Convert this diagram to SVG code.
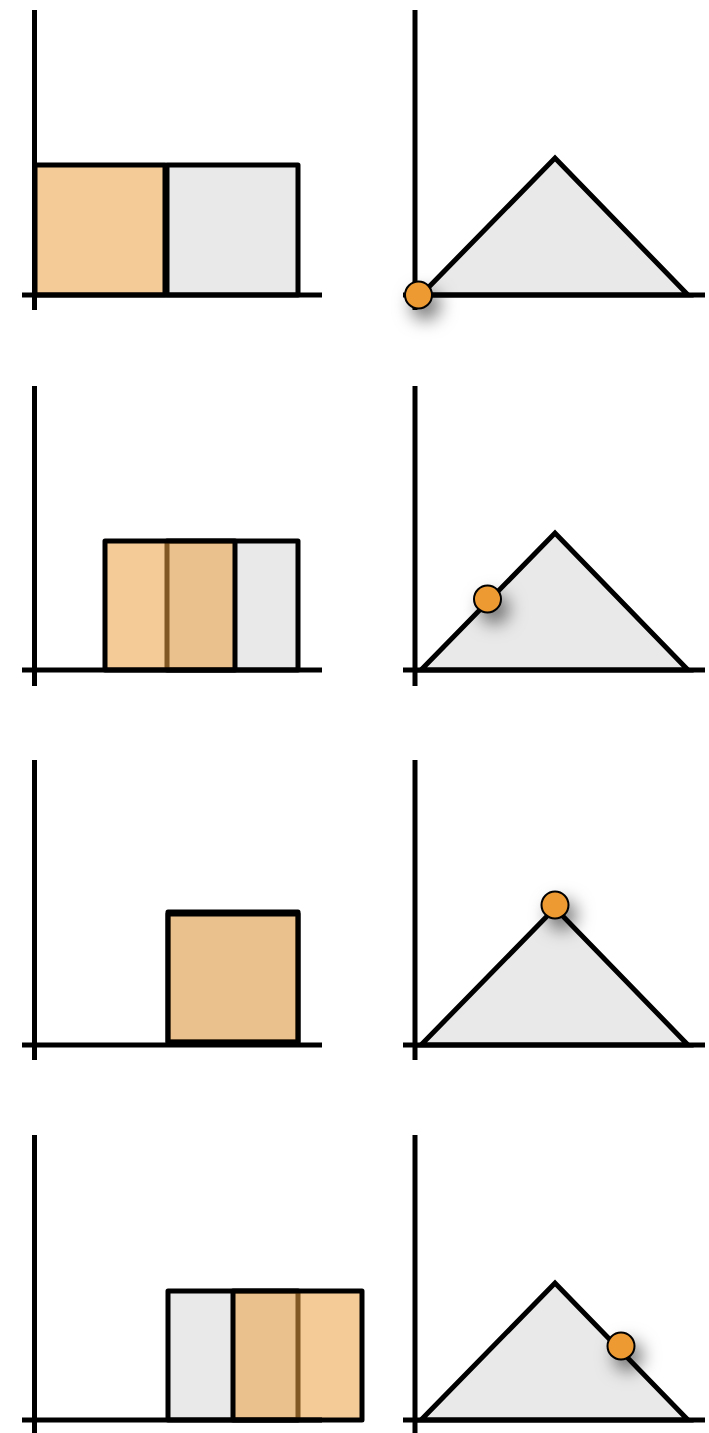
<svg xmlns="http://www.w3.org/2000/svg" width="709" height="1433" viewBox="0 0 709 1433">
<style>
.ax{stroke:#000;stroke-width:5;fill:none}
.grey{fill:#E9E9E9;stroke:#000;stroke-width:5;stroke-linejoin:round}
.org{fill:#EB9E40;fill-opacity:0.55;stroke:#000;stroke-width:5;stroke-linejoin:round}
.tri{fill:#E9E9E9;stroke:#000;stroke-width:5;stroke-linejoin:miter}
.dot{fill:#ED9A33;stroke:#000;stroke-width:2;filter:url(#sh)}
</style>
<defs>
<filter id="sh" x="-200%" y="-200%" width="500%" height="500%">
<feDropShadow dx="7" dy="10" stdDeviation="9" flood-color="#000" flood-opacity="0.55"/>
</filter>
</defs>
<rect width="709" height="1433" fill="#fff"/>

<g id="row1-left">
<rect class="grey" x="167" y="165" width="131" height="130"/>
<rect class="org" x="35" y="165" width="130" height="130"/>
<line class="ax" x1="34.5" y1="10" x2="34.5" y2="310"/>
<line class="ax" x1="22" y1="295" x2="322" y2="295"/>
</g>
<g id="row1-right">
<polygon class="tri" points="421,295 555,158 688,295"/>
<line class="ax" x1="415" y1="10" x2="415" y2="310"/>
<line class="ax" x1="403" y1="295" x2="705" y2="295"/>
<circle class="dot" cx="418.5" cy="295" r="13.5"/>
</g>

<g id="row2-left">
<rect class="grey" x="167" y="541" width="131" height="129"/>
<rect class="org" x="105" y="541" width="130" height="129"/>
<line class="ax" x1="34.5" y1="386" x2="34.5" y2="686"/>
<line class="ax" x1="22" y1="670" x2="322" y2="670"/>
</g>
<g id="row2-right">
<polygon class="tri" points="421,670 555,533 688,670"/>
<line class="ax" x1="415" y1="386" x2="415" y2="686"/>
<line class="ax" x1="403" y1="670" x2="705" y2="670"/>
<circle class="dot" cx="487.5" cy="599" r="13.5"/>
</g>

<g id="row3-left">
<rect class="grey" x="168" y="912" width="130" height="130"/>
<rect class="org" x="168" y="914" width="130" height="128"/>
<line class="ax" x1="34.5" y1="760" x2="34.5" y2="1060"/>
<line class="ax" x1="22" y1="1045" x2="322" y2="1045"/>
</g>
<g id="row3-right">
<polygon class="tri" points="421,1045 555,908 688,1045"/>
<line class="ax" x1="415" y1="760" x2="415" y2="1060"/>
<line class="ax" x1="403" y1="1045" x2="705" y2="1045"/>
<circle class="dot" cx="555" cy="905" r="13.5"/>
</g>

<g id="row4-left">
<rect class="grey" x="168" y="1291" width="130" height="129"/>
<rect class="org" x="233" y="1291" width="129" height="129"/>
<line class="ax" x1="34.5" y1="1135" x2="34.5" y2="1433"/>
<line class="ax" x1="22" y1="1420" x2="322" y2="1420"/>
</g>
<g id="row4-right">
<polygon class="tri" points="421,1420 555,1283 688,1420"/>
<line class="ax" x1="415" y1="1135" x2="415" y2="1433"/>
<line class="ax" x1="403" y1="1420" x2="705" y2="1420"/>
<circle class="dot" cx="621" cy="1346" r="13.5"/>
</g>
<g id="connectors"/>
</svg>
